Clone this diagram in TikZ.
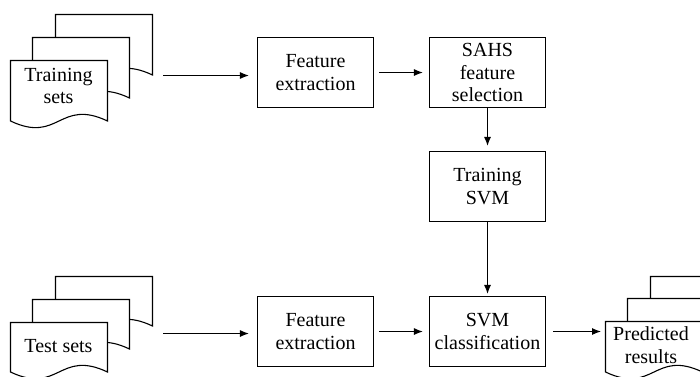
\documentclass[tikz,border=0pt]{standalone}
\usepackage{fontspec}
\setmainfont{Liberation Serif}
\usetikzlibrary{arrows.meta}
% page of a document stack: left, top, bottom
\newcommand{\docpage}[3]{\draw[page] (#1,#2) -- (#1+97,#2) -- (#1+97,#3) .. controls (#1+48.5,#3-23) and (#1+48.5,#3+23) .. (#1,#3) -- cycle;}

\begin{document}
\begin{tikzpicture}[x=0.5pt,y=-0.5pt,line width=0.55pt,
  box/.style={draw, minimum width=58pt, minimum height=35pt, inner sep=0pt, align=center, font=\fontsize{10}{11.25}\selectfont},
  lbl/.style={align=center, inner sep=0pt, font=\fontsize{10}{11.25}\selectfont},
  page/.style={draw, fill=white},
  arr/.style={-{Latex[length=4.5pt,width=3.5pt]}}]
\path[use as bounding box, clip] (0,0) rectangle (700,376);
%TRAINING SETS
\docpage{55.5}{14.5}{75}
\docpage{32.5}{37.5}{98}
\docpage{10.5}{60.5}{121}
\node[lbl] (trainlbl) at (58.5,86) {Training\\sets};
\coordinate (trs) at (163,75.5);
%TEST SETS
\docpage{55.5}{276.5}{326}
\docpage{32.5}{299.5}{349}
\docpage{10.5}{322.5}{372}
\node[lbl] (testlbl) at (58.5,346) {Test sets};
\coordinate (tss) at (163,333.5);
%PREDICTED RESULTS
\docpage{650.5}{276.5}{326}
\docpage{627.5}{298.5}{349}
\docpage{605.5}{321.5}{372}
\node[lbl] (predlbl) at (651,345) {Predicted\\results};
\coordinate (prd) at (605,331.5);
%BOXES
\node[box] (fe1) at (315.5,72.5) {Feature\\extraction};
\node[box] (sahs) at (487.5,72.5) {SAHS\\feature\\selection};
\node[box] (tsvm) at (487.5,186.5) {Training\\SVM};
\node[box] (fe2) at (315.5,331.5) {Feature\\extraction};
\node[box] (svmc) at (487.5,331.5) {SVM\\classification};
%ARROWS
\draw[arr, shorten >=4pt] (trs) -- (trs -| fe1.west);
\draw[arr, shorten <=2.5pt, shorten >=3pt] (fe1) -- (sahs);
\draw[arr, shorten >=2.5pt] (sahs) -- (tsvm);
\draw[arr, shorten >=1pt] (tsvm) -- (svmc);
\draw[arr, shorten >=4pt] (tss) -- (tss -| fe2.west);
\draw[arr, shorten <=2.5pt, shorten >=3pt] (fe2) -- (svmc);
\draw[arr, shorten <=3.5pt, shorten >=2pt] (svmc.east) -- (prd);
\end{tikzpicture}
\end{document}
